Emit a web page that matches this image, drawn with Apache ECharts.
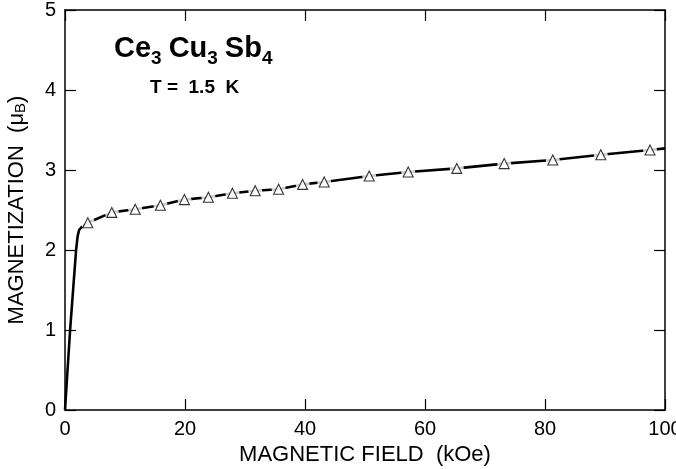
<!DOCTYPE html>
<html>
<head>
<meta charset="utf-8">
<style>
  html, body { margin: 0; padding: 0; background: #fff; }
  #chart { width: 676px; height: 469px; }
</style>
<script src="https://cdn.jsdelivr.net/npm/echarts@6/dist/echarts.min.js"></script>
</head>
<body>
<div id="chart"></div>
<script>
// low-field rise (solid curve)
const riseField = [0, 0.85, 1.85, 2.1, 2.35, 2.8, 3.5]
const riseMag = [0, 1.0, 2.0, 2.17, 2.25, 2.29, 2.32]

// measured points (open triangles)
const pointField = [3.8, 7.8, 11.7, 15.9, 19.9, 23.9, 27.9, 31.7, 35.6, 39.6, 43.2, 50.7, 57.2, 65.3, 73.2, 81.3, 89.3, 97.5]
const pointMag = [2.34, 2.47, 2.51, 2.56, 2.63, 2.66, 2.71, 2.74, 2.76, 2.82, 2.85, 2.925, 2.975, 3.02, 3.08, 3.125, 3.19, 3.25]

// end of the high-field curve
const tailField = [100]
const tailMag = [3.27]

const xTicks = [0, 20, 40, 60, 80, 100]
const yTicks = [0, 1, 2, 3, 4, 5]

const font = 'Liberation Sans, Arial, sans-serif'

const zip = (xs, ys) => xs.map((x, i) => [x, ys[i]])
const risePts = zip(riseField, riseMag)
const dataPts = zip(pointField, pointMag)
const highPts = dataPts.concat(zip(tailField, tailMag))

const axisLine = { show: true, onZero: false, lineStyle: { color: '#000', width: 1.5 } }
const tick = { show: true, inside: true, length: 11, lineStyle: { color: '#000', width: 1.2 } }

// formula label: pieces laid out left to right, subscripts dropped lower
const mainFont = 'bold 29px ' + font
const subFont = 'bold 19px ' + font
const formula = [['Ce', 0], ['3', 1], ['Cu', 0], ['3', 1], ['Sb', 0], ['4', 1]]
const ctx = document.createElement('canvas').getContext('2d')
const formulaText = []
let fx = 114
formula.forEach(([t, sub]) => {
  ctx.font = sub ? subFont : mainFont
  formulaText.push({
    type: 'text',
    x: fx,
    y: sub ? 49 : 34,
    style: { text: t, font: sub ? subFont : mainFont, fill: '#000', verticalAlign: 'top' }
  })
  fx += ctx.measureText(t).width + (sub ? 7 : 0)
})

const chart = echarts.init(document.getElementById('chart'))
chart.setOption({
  animation: false,
  grid: { left: 65, right: 11, top: 10, bottom: 59, outerBoundsMode: 'none', containLabel: false },
  xAxis: [{
    type: 'value',
    min: xTicks[0],
    max: xTicks[xTicks.length - 1],
    interval: 20,
    axisLine,
    axisTick: tick,
    splitLine: { show: false },
    axisLabel: { color: '#000', fontSize: 20, fontFamily: font, margin: 9 },
    name: 'MAGNETIC FIELD  (kOe)',
    nameLocation: 'middle',
    nameGap: 34,
    nameTextStyle: { color: '#000', fontSize: 22, fontFamily: font }
  }, {
    type: 'value',
    position: 'top',
    min: 0,
    max: 100,
    interval: 20,
    axisLine,
    axisTick: tick,
    splitLine: { show: false },
    axisLabel: { show: false }
  }],
  yAxis: [{
    type: 'value',
    min: yTicks[0],
    max: yTicks[yTicks.length - 1],
    interval: 1,
    axisLine,
    axisTick: tick,
    splitLine: { show: false },
    axisLabel: { color: '#000', fontSize: 20, fontFamily: font, margin: 9 },
    name: 'MAGNETIZATION  (μ{s|B})',
    nameLocation: 'middle',
    nameGap: 37,
    nameTextStyle: {
      color: '#000', fontSize: 22, fontFamily: font,
      rich: {
        s: { fontSize: 15, fontFamily: font, color: '#000', verticalAlign: 'bottom', lineHeight: 10 }
      }
    }
  }, {
    type: 'value',
    position: 'right',
    min: 0,
    max: 5,
    interval: 1,
    axisLine,
    axisTick: tick,
    splitLine: { show: false },
    axisLabel: { show: false }
  }],
  series: [{
    type: 'line',
    data: risePts,
    showSymbol: false,
    lineStyle: { color: '#000', width: 2.6 },
    z: 2
  }, {
    type: 'line',
    data: highPts,
    showSymbol: false,
    lineStyle: { color: '#000', width: 2.6 },
    z: 2
  }, {
    // white masks that break the curve around each point
    type: 'scatter',
    data: dataPts,
    symbol: 'circle',
    symbolSize: 14,
    itemStyle: { color: '#fff' },
    silent: true,
    z: 3
  }, {
    type: 'scatter',
    data: dataPts,
    symbol: 'triangle',
    symbolSize: 10,
    itemStyle: { color: '#fff', borderColor: '#000', borderWidth: 1.1 },
    z: 4
  }],
  graphic: formulaText.concat([{
    type: 'text',
    left: 150,
    top: 78,
    style: {
      text: 'T =  1.5  K',
      fill: '#000',
      font: 'bold 19px ' + font
    }
  }])
})
</script>
</body>
</html>
